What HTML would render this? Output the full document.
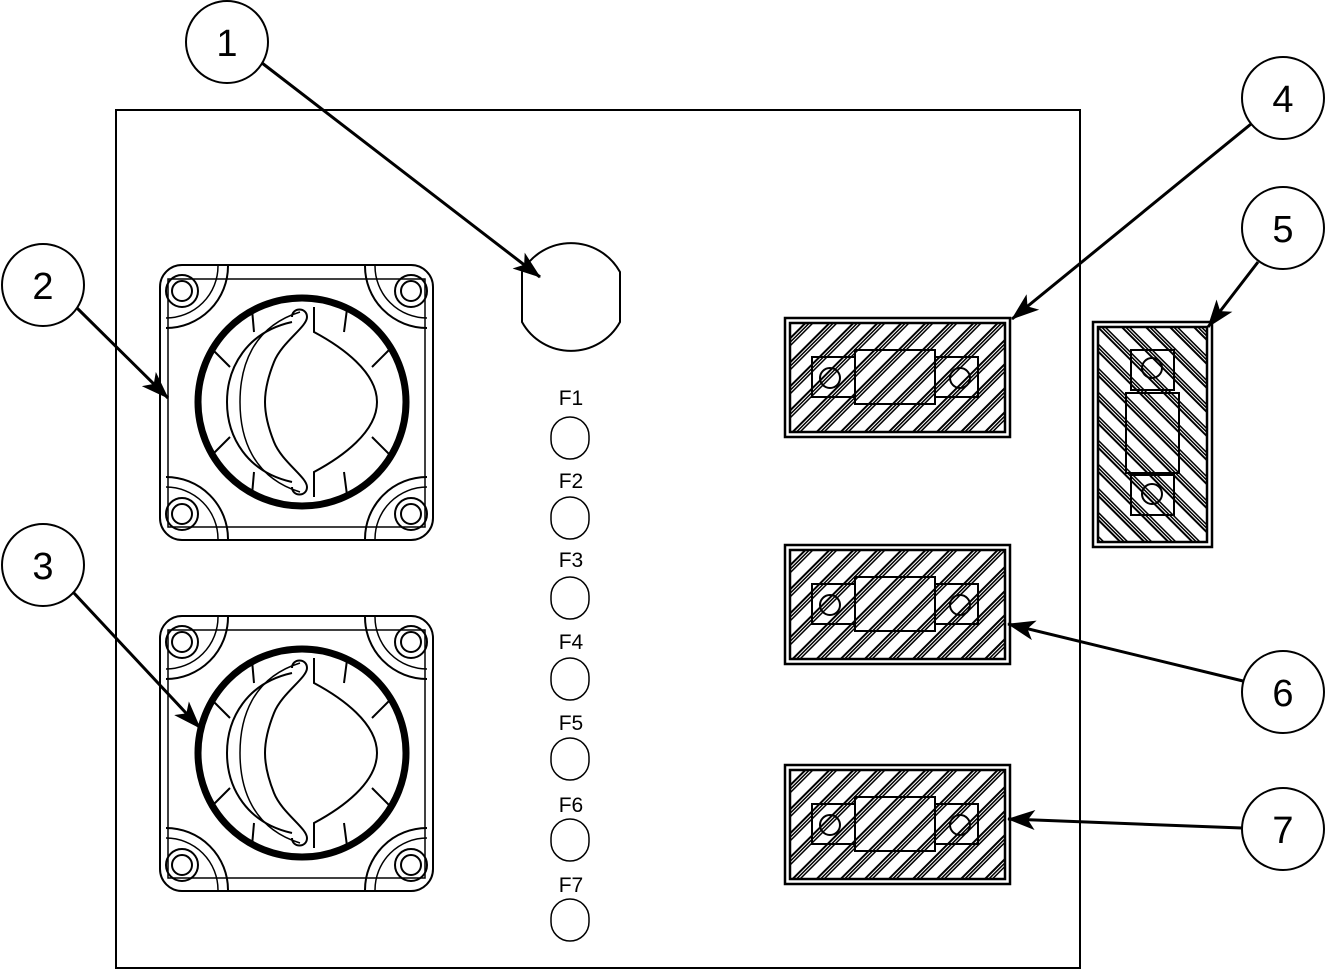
<!DOCTYPE html>
<html><head><meta charset="utf-8"><style>html,body{margin:0;padding:0;background:#fff}svg{display:block}</style></head>
<body>
<svg width="1326" height="970" viewBox="0 0 1326 970" xmlns="http://www.w3.org/2000/svg" font-family="Liberation Sans, Arial, sans-serif">
<defs>
<marker id="ah" viewBox="0 0 28 20" refX="27" refY="10" markerWidth="28" markerHeight="20" markerUnits="userSpaceOnUse" orient="auto">
<path d="M0,0 L28,10 L0,20 L7,10 Z" fill="#000"/>
</marker>
<pattern id="h1" patternUnits="userSpaceOnUse" width="17" height="17" patternTransform="rotate(45)">
<rect width="17" height="17" fill="#fff"/><rect x="0" y="0" width="7" height="17" fill="#000"/>
<rect x="2" y="0" width="1" height="17" fill="#fff"/><rect x="4.5" y="0" width="1" height="17" fill="#fff"/>
</pattern>
<pattern id="h2" patternUnits="userSpaceOnUse" width="17" height="17" patternTransform="rotate(-45)">
<rect width="17" height="17" fill="#fff"/><rect x="0" y="0" width="7" height="17" fill="#000"/>
<rect x="2" y="0" width="1" height="17" fill="#fff"/><rect x="4.5" y="0" width="1" height="17" fill="#fff"/>
</pattern>
<g id="sw" fill="none" stroke="#000">
<rect x="-142" y="-137" width="273" height="275" rx="22" stroke-width="2"/>
<rect x="-134" y="-123" width="257" height="248" stroke-width="1.5"/>
<g id="corner">
<path d="M-74,-136 A62,62 0 0 1 -136,-74" stroke-width="2"/>
<path d="M-84,-136 A52,52 0 0 1 -136,-84" stroke-width="1.5"/>
<circle cx="-120" cy="-111" r="16" stroke-width="2"/>
<circle cx="-120" cy="-111" r="10" stroke-width="2"/>
</g>
<use href="#corner" transform="scale(-1,1) translate(11,0)"/>
<use href="#corner" transform="scale(1,-1) translate(0,-1)"/>
<use href="#corner" transform="scale(-1,-1) translate(11,-1)"/>
<circle cx="0" cy="0" r="104" stroke-width="7"/>
<path d="M-10,-80 C-55,-70 -75,-35 -75,0 C-75,35 -55,70 -10,80" stroke-width="2"/>
<path d="M-2,-90 C-50,-75 -62,-35 -62,0 C-62,35 -50,75 -2,90" stroke-width="1.5"/>
<path d="M-10,-85 C-10,-95 5,-95 5,-85 C5,-75 -20,-60 -28,-40 C-40,-10 -40,10 -28,40 C-20,60 5,75 5,85 C5,95 -10,95 -10,85" stroke-width="2"/>
<path d="M12,-95 L12,-70 C40,-55 75,-30 75,0 C75,30 40,55 12,70 L12,95" stroke-width="2"/>
<path d="M-92,-55 L-72,-35 M-92,55 L-72,35 M90,-55 L70,-35 M90,55 L70,35 M-50,-93 L-48,-70 M-50,93 L-48,70 M45,-93 L42,-70 M45,93 L42,70" stroke-width="2"/>
</g>
<g id="fh" stroke="#000" fill="none">
<rect x="0" y="0" width="225" height="119" fill="#fff" stroke-width="2.5"/>
<rect x="5" y="5" width="215" height="109" fill="url(#h1)" stroke-width="2.5"/>
<rect x="27" y="39" width="43" height="40" fill="url(#h1)" stroke-width="2"/>
<rect x="150" y="39" width="43" height="40" fill="url(#h1)" stroke-width="2"/>
<circle cx="45" cy="60" r="10" fill="url(#h1)" stroke-width="2"/>
<circle cx="175" cy="60" r="10" fill="url(#h1)" stroke-width="2"/>
<rect x="70" y="32" width="80" height="54" fill="url(#h1)" stroke-width="2"/>
</g>
</defs>

<rect x="116" y="110" width="964" height="858" fill="none" stroke="#000" stroke-width="2"/>

<use href="#sw" transform="translate(302,402)"/>
<use href="#sw" transform="translate(302,753)"/>

<path d="M522,272 A56,56 0 0 1 620,272 L620,322 A56,56 0 0 1 522,322 Z" fill="none" stroke="#000" stroke-width="2"/>

<g fill="none" stroke="#000" stroke-width="1.5">
<path d="M551,436 A19,19 0 0 1 589,436 L589,440 A19,19 0 0 1 551,440 Z"/>
<path d="M551,516 A19,19 0 0 1 589,516 L589,520 A19,19 0 0 1 551,520 Z"/>
<path d="M551,596 A19,19 0 0 1 589,596 L589,600 A19,19 0 0 1 551,600 Z"/>
<path d="M551,677 A19,19 0 0 1 589,677 L589,681 A19,19 0 0 1 551,681 Z"/>
<path d="M551,757 A19,19 0 0 1 589,757 L589,761 A19,19 0 0 1 551,761 Z"/>
<path d="M551,838 A19,19 0 0 1 589,838 L589,842 A19,19 0 0 1 551,842 Z"/>
<path d="M551,918 A19,19 0 0 1 589,918 L589,922 A19,19 0 0 1 551,922 Z"/>
</g>
<g font-size="21" text-anchor="middle" fill="#000">
<text x="571" y="405">F1</text><text x="571" y="488">F2</text><text x="571" y="567">F3</text>
<text x="571" y="649">F4</text><text x="571" y="730">F5</text><text x="571" y="812">F6</text><text x="571" y="892">F7</text>
</g>

<use href="#fh" transform="translate(785,318)"/>
<use href="#fh" transform="translate(785,545)"/>
<use href="#fh" transform="translate(785,765)"/>

<g stroke="#000" fill="none">
<rect x="1093" y="322" width="119" height="225" fill="#fff" stroke-width="2.5"/>
<rect x="1098" y="327" width="109" height="215" fill="url(#h2)" stroke-width="2.5"/>
<rect x="1131" y="350" width="43" height="40" fill="url(#h2)" stroke-width="2"/>
<rect x="1131" y="475" width="43" height="40" fill="url(#h2)" stroke-width="2"/>
<circle cx="1152" cy="368" r="10" fill="url(#h2)" stroke-width="2"/>
<circle cx="1152" cy="494" r="10" fill="url(#h2)" stroke-width="2"/>
<rect x="1126" y="393" width="53" height="80" fill="url(#h2)" stroke-width="2"/>
</g>

<g stroke="#000" stroke-width="3" fill="none">
<line x1="262" y1="63" x2="540" y2="277" marker-end="url(#ah)"/>
<line x1="77" y1="308" x2="168" y2="398" marker-end="url(#ah)"/>
<line x1="73" y1="592" x2="200" y2="728" marker-end="url(#ah)"/>
<line x1="1251" y1="124" x2="1012" y2="319" marker-end="url(#ah)"/>
<line x1="1258" y1="262" x2="1208" y2="327" marker-end="url(#ah)"/>
<line x1="1243" y1="681" x2="1008" y2="624" marker-end="url(#ah)"/>
<line x1="1242" y1="828" x2="1008" y2="819" marker-end="url(#ah)"/>
</g>

<g stroke="#000" stroke-width="2" fill="#fff">
<circle cx="227" cy="42" r="41"/><circle cx="43" cy="285" r="41"/><circle cx="43" cy="565" r="41"/>
<circle cx="1283" cy="98" r="41"/><circle cx="1283" cy="228" r="41"/><circle cx="1283" cy="692" r="41"/><circle cx="1283" cy="829" r="41"/>
</g>
<g font-size="38" text-anchor="middle" fill="#000">
<text x="227" y="56">1</text><text x="43" y="299">2</text><text x="43" y="579">3</text>
<text x="1283" y="112">4</text><text x="1283" y="242">5</text><text x="1283" y="706">6</text><text x="1283" y="843">7</text>
</g>
</svg>
</body></html>
